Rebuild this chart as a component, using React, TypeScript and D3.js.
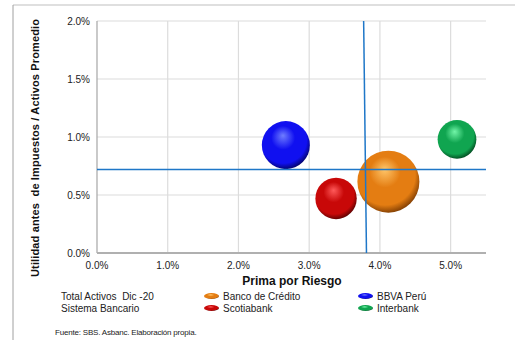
import React from "react";
import * as d3 from "d3";

const banks = ["Banco de Crédito", "BBVA Perú", "Scotiabank", "Interbank"];
const primaRiesgo = [4.12, 2.67, 3.38, 5.09];
const utilidad = [0.615, 0.93, 0.47, 0.98];
const activos = [200000, 120000, 89000, 78000];
const xTicks = [0, 1, 2, 3, 4, 5];
const yTicks = [0, 0.5, 1.0, 1.5, 2.0];
const refX = [3.77, 3.81]; // vertical reference line (top, bottom)
const refY = 0.72;

const colors = [
  { hi: "#ffc66a", mid: "#e47d12", dark: "#6e3200" },
  { hi: "#6f7dff", mid: "#1010f0", dark: "#000050" },
  { hi: "#ff5a5a", mid: "#c80808", dark: "#480000" },
  { hi: "#72f5a8", mid: "#10a550", dark: "#003a18" },
];

export default function App() {
  const W = 515, H = 340;
  const m = { left: 97, right: 486, top: 21, bottom: 253 };
  const x = d3.scaleLinear().domain([0, 5.5]).range([m.left, m.right]);
  const y = d3.scaleLinear().domain([0, 2.0]).range([m.bottom, m.top]);
  const r = d3.scaleSqrt().domain([0, d3.max(activos) as number]).range([0, 31]);
  const font = "'Liberation Sans', Arial, sans-serif";
  const legendPos = [
    { x: 204, y: 296 },
    { x: 358, y: 296 },
    { x: 204, y: 308 },
    { x: 358, y: 308 },
  ];
  const order = [0, 1, 2, 3];
  return (
    <svg width={W} height={H} style={{ position: "absolute", left: 0, top: 0 }} fontFamily={font}>
      <defs>
        {colors.map((c, i) => (
          <radialGradient key={i} id={`g${i}`} cx="0.45" cy="0.42" r="0.62" fx="0.44" fy="0.3">
            <stop offset="0" stopColor={c.hi} />
            <stop offset="0.4" stopColor={c.mid} />
            <stop offset="0.78" stopColor={c.mid} />
            <stop offset="1" stopColor={c.dark} />
          </radialGradient>
        ))}
      </defs>
      <rect x={0} y={0} width={W} height={H} fill="#fff" />
      {/* frame */}
      <line x1={13} y1={5} x2={W} y2={5} stroke="#d4d4d4" strokeWidth={1.5} />
      <line x1={13} y1={5} x2={13} y2={H} stroke="#a0a0a0" strokeWidth={1} />
      {/* gridlines */}
      {xTicks.filter((t) => t > 0).map((t) => (
        <line key={"vx" + t} x1={x(t)} x2={x(t)} y1={m.top} y2={m.bottom} stroke="#dcdcdc" strokeWidth={1.2} />
      ))}
      {yTicks.filter((t) => t > 0).map((t) => (
        <line key={"hy" + t} x1={m.left} x2={m.right} y1={y(t)} y2={y(t)} stroke="#dcdcdc" strokeWidth={1.2} />
      ))}
      {/* axes */}
      <line x1={m.left} x2={m.left} y1={m.top} y2={m.bottom} stroke="#a6a6a6" strokeWidth={1.2} />
      <line x1={m.left} x2={m.right} y1={m.bottom} y2={m.bottom} stroke="#b0b0b0" strokeWidth={2} />
      {/* tick labels */}
      {yTicks.map((t) => (
        <text key={"yl" + t} x={90} y={y(t)} dy="0.35em" textAnchor="end" fontSize={10} fill="#222">
          {t.toFixed(1) + "%"}
        </text>
      ))}
      {xTicks.map((t) => (
        <text key={"xl" + t} x={x(t)} y={268.5} textAnchor="middle" fontSize={10} fill="#222">
          {t.toFixed(1) + "%"}
        </text>
      ))}
      {/* axis titles */}
      <text x={292} y={285} textAnchor="middle" fontSize={12} fontWeight="bold" fill="#111">
        Prima por Riesgo
      </text>
      <text
        transform={`translate(39,148) rotate(-90)`}
        textAnchor="middle"
        fontSize={11}
        fontWeight="bold"
        fill="#111"
        textLength={258}
        lengthAdjust="spacing"
        style={{ whiteSpace: "pre" }}
      >
        {"Utilidad antes  de Impuestos / Activos Promedio"}
      </text>
      {/* bubbles */}
      {order.map((i) => (
        <circle key={"b" + i} cx={x(primaRiesgo[i])} cy={y(utilidad[i])} r={r(activos[i])} fill={`url(#g${i})`} />
      ))}
      {/* reference lines */}
      <line x1={m.left} x2={m.right} y1={y(refY)} y2={y(refY)} stroke="#1f77c8" strokeWidth={1.5} />
      <line x1={x(refX[0])} x2={x(refX[1])} y1={m.top} y2={m.bottom} stroke="#1f77c8" strokeWidth={1.5} />
      {/* legend */}
      <text x={61} y={300} fontSize={10} fill="#222" style={{ whiteSpace: "pre" }}>
        {"Total Activos  Dic -20"}
      </text>
      <text x={61} y={312} fontSize={10} fill="#222">
        Sistema Bancario
      </text>
      {banks.map((b, i) => (
        <g key={"lg" + i}>
          <ellipse cx={legendPos[i].x + 7.5} cy={legendPos[i].y} rx={7.5} ry={3} fill={`url(#g${i})`} />
          <text x={legendPos[i].x + 19} y={legendPos[i].y + 3.6} fontSize={10} fill="#222">
            {b}
          </text>
        </g>
      ))}
      <text x={55} y={335} fontSize={8} fill="#222" letterSpacing={-0.2}>
        Fuente: SBS. Asbanc. Elaboración propia.
      </text>
    </svg>
  );
}
